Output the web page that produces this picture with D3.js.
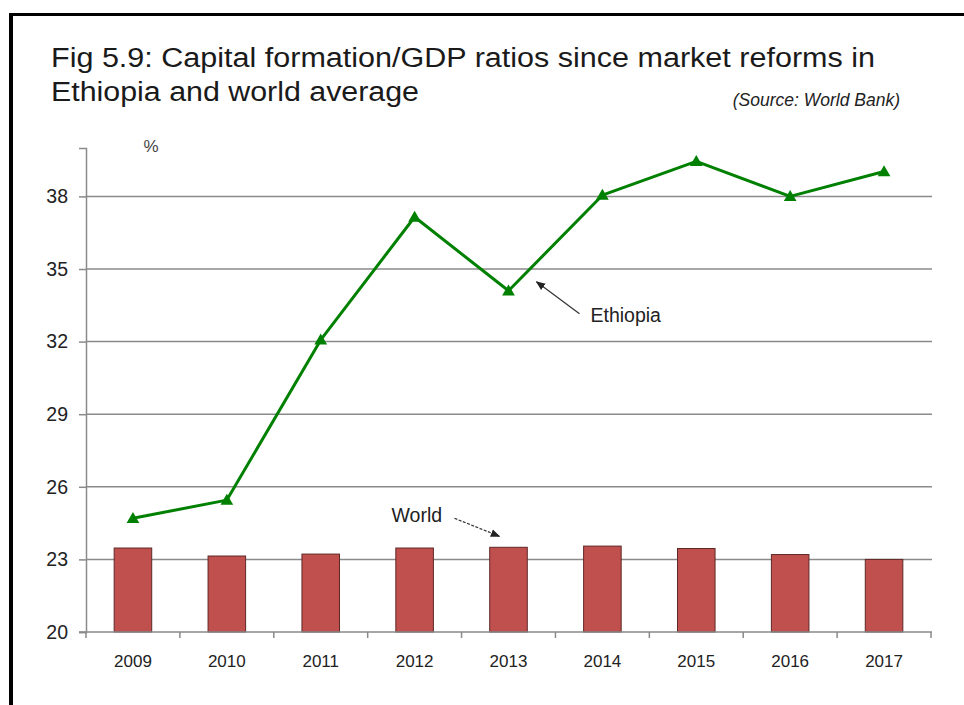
<!DOCTYPE html>
<html>
<head>
<meta charset="utf-8">
<script src="https://cdn.jsdelivr.net/npm/d3@7/dist/d3.min.js"></script>
<style>
  html, body { margin: 0; padding: 0; background: #fff; }
  svg { display: block; font-family: Arial, "Liberation Sans", sans-serif; }
</style>
</head>
<body>
<svg id="chart" width="964" height="705"></svg>
<script>
// Gross capital formation as % of GDP
const years = ["2009", "2010", "2011", "2012", "2013", "2014", "2015", "2016", "2017"];
const ethiopia = [24.7, 25.45, 32.07, 37.15, 34.1, 38.05, 39.45, 38.0, 39.03];
const world = [23.47, 23.14, 23.22, 23.47, 23.5, 23.55, 23.45, 23.2, 23.0];
const yTicks = [20, 23, 26, 29, 32, 35, 38];

const svg = d3.select("#chart");

// Frame: heavy rule along the top and left edge
svg.append("rect").attr("x", 9).attr("y", 13).attr("width", 955).attr("height", 3).attr("fill", "#000");
svg.append("rect").attr("x", 9).attr("y", 13).attr("width", 4).attr("height", 692).attr("fill", "#000");

// Title
const title = svg.append("g").attr("fill", "#1a1a1a").attr("font-size", 27);
title.append("text").attr("x", 51).attr("y", 67)
  .attr("textLength", 824).attr("lengthAdjust", "spacingAndGlyphs")
  .text("Fig 5.9: Capital formation/GDP ratios since market reforms in");
title.append("text").attr("x", 51).attr("y", 101)
  .attr("textLength", 368).attr("lengthAdjust", "spacingAndGlyphs")
  .text("Ethiopia and world average");
svg.append("text").attr("x", 900).attr("y", 106).attr("text-anchor", "end")
  .attr("font-size", 17.5).attr("font-style", "italic").attr("fill", "#222")
  .text("(Source: World Bank)");

// Plot area
const plotL = 86, plotR = 931, plotT = 148, plotB = 632;

const x = d3.scaleBand().domain(years).range([plotL, plotR]).paddingInner(0.6).paddingOuter(0.3);
const y = d3.scaleLinear().domain([20, 40]).range([plotB, plotT]);
const cx = d => x(d) + x.bandwidth() / 2;

// Horizontal gridlines
svg.append("g").selectAll("line").data(yTicks.slice(1)).join("line")
  .attr("x1", plotL).attr("x2", plotR + 1)
  .attr("y1", d => y(d)).attr("y2", d => y(d))
  .attr("stroke", "#8a8a8a").attr("stroke-width", 1.5);

// Y axis
const yAxis = svg.append("g").attr("transform", `translate(${plotL},0)`)
  .call(d3.axisLeft(y).tickValues(yTicks).tickSize(7).tickPadding(11));
yAxis.select(".domain").attr("stroke", "#8a8a8a").attr("stroke-width", 1.5);
yAxis.selectAll(".tick line").attr("stroke", "#8a8a8a").attr("stroke-width", 1.5);
yAxis.selectAll(".tick text").attr("font-size", 19.5).attr("fill", "#222")
  .attr("font-family", "Arial, 'Liberation Sans', sans-serif");

svg.append("text").attr("x", 151).attr("y", 152).attr("text-anchor", "middle")
  .attr("font-size", 17).attr("fill", "#444").text("%");

// World bars
svg.append("g").selectAll("rect").data(years).join("rect")
  .attr("x", d => x(d))
  .attr("width", x.bandwidth())
  .attr("y", (d, i) => y(world[i]))
  .attr("height", (d, i) => y(20) - y(world[i]))
  .attr("fill", "#c0504d")
  .attr("stroke", "#5e2826").attr("stroke-width", 1);

// X axis: ticks at category boundaries
const xAxis = svg.append("g").attr("transform", `translate(0,${plotB})`);
xAxis.append("line").attr("x1", plotL - 7).attr("x2", plotR + 1).attr("y1", 0).attr("y2", 0)
  .attr("stroke", "#8a8a8a").attr("stroke-width", 1.5);
const step = x.step();
xAxis.selectAll("line.tk").data(d3.range(years.length + 1)).join("line").attr("class", "tk")
  .attr("x1", i => plotL + i * step).attr("x2", i => plotL + i * step)
  .attr("y1", 0).attr("y2", 6)
  .attr("stroke", "#8a8a8a").attr("stroke-width", 1.5);
xAxis.selectAll("text").data(years).join("text")
  .attr("x", d => cx(d)).attr("y", 35).attr("text-anchor", "middle")
  .attr("font-size", 17).attr("fill", "#222").text(d => d);

// Ethiopia line with triangle markers
const green = "#008000";
svg.append("path").datum(years)
  .attr("fill", "none").attr("stroke", green).attr("stroke-width", 3)
  .attr("stroke-linejoin", "round")
  .attr("d", d3.line().x(d => cx(d)).y((d, i) => y(ethiopia[i])));
svg.append("g").selectAll("path").data(years).join("path")
  .attr("transform", (d, i) => `translate(${cx(d)},${y(ethiopia[i]) + 1})`)
  .attr("d", d3.symbol(d3.symbolTriangle, 70))
  .attr("fill", green);

// Annotations with arrows
const defs = svg.append("defs");
defs.append("marker").attr("id", "arrow").attr("viewBox", "0 0 10 10")
  .attr("refX", 9).attr("refY", 5).attr("markerWidth", 8).attr("markerHeight", 8)
  .attr("orient", "auto")
  .append("path").attr("d", "M0,1 L10,5 L0,9 Z").attr("fill", "#222");

const iEth = years.indexOf("2013");
const ePt = [cx("2013"), y(ethiopia[iEth])];
svg.append("line")
  .attr("x1", ePt[0] + 71).attr("y1", ePt[1] + 23)
  .attr("x2", ePt[0] + 28).attr("y2", ePt[1] - 9)
  .attr("stroke", "#333").attr("stroke-width", 1.2).attr("marker-end", "url(#arrow)");
svg.append("text").attr("x", ePt[0] + 82).attr("y", ePt[1] + 31)
  .attr("font-size", 19.5).attr("fill", "#222").text("Ethiopia");

const wPt = [cx("2013"), y(world[iEth])];
svg.append("line")
  .attr("x1", wPt[0] - 54).attr("y1", wPt[1] - 29)
  .attr("x2", wPt[0] - 9).attr("y2", wPt[1] - 11)
  .attr("stroke", "#333").attr("stroke-width", 1.2).attr("stroke-dasharray", "3,1.5")
  .attr("marker-end", "url(#arrow)");
svg.append("text").attr("x", wPt[0] - 117).attr("y", wPt[1] - 25)
  .attr("font-size", 19.5).attr("fill", "#222").text("World");
</script>
</body>
</html>
